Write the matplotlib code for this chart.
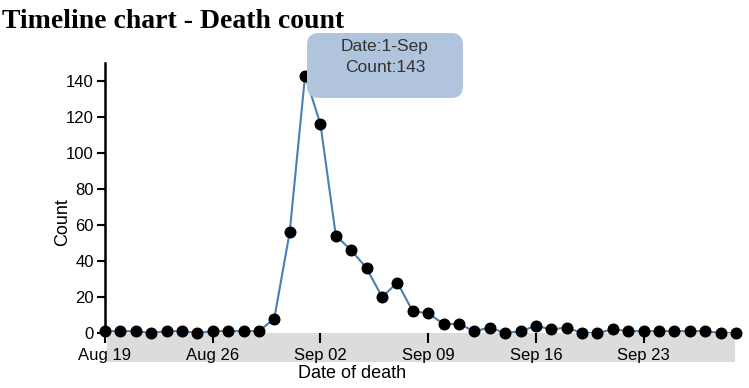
import pandas as pd
import matplotlib.pyplot as plt
from matplotlib.patches import FancyBboxPatch, Rectangle
from matplotlib.transforms import IdentityTransform

plt.rcParams['font.family'] = ['Liberation Sans', 'DejaVu Sans']

# Deaths per day, 19 Aug - 29 Sep 1854
dates = pd.date_range('1854-08-19', periods=42, freq='D')
deaths = [1, 1, 1, 0, 1, 1, 0, 1, 1, 1, 1, 8, 56, 143, 116, 54, 46, 36, 20, 28,
          12, 11, 5, 5, 1, 3, 0, 1, 4, 2, 3, 0, 0, 2, 1, 1, 1, 1, 1, 1, 0, 0]
tick_dates = pd.to_datetime(['1854-08-19', '1854-08-26', '1854-09-02',
                             '1854-09-09', '1854-09-16', '1854-09-23'])
tick_labels = ['Aug 19', 'Aug 26', 'Sep 02', 'Sep 09', 'Sep 16', 'Sep 23']

W, H = 749, 388
fig = plt.figure(figsize=(W / 100, H / 100), dpi=100)
ax = fig.add_axes([105 / W, (H - 333) / H, (736 - 105) / W, 270 / H])

ax.plot(dates, deaths, color='#4a7fb0', lw=1.5, zorder=2)
ax.scatter(dates, deaths, s=58, color='black', zorder=4, clip_on=False)

ax.set_xlim(dates[0], dates[-1])
ax.set_ylim(0, 150)
ax.set_yticks(range(0, 141, 20))
ax.set_xticks(tick_dates)
ax.set_xticklabels(tick_labels)

# grey band behind the x axis
band = Rectangle((2 / 631, -29 / 270), 628 / 631, 29.4 / 270, transform=ax.transAxes,
                 facecolor='#dcdcdc', edgecolor='none', clip_on=False, zorder=3)
ax.add_patch(band)

for s in ['top', 'right', 'bottom']:
    ax.spines[s].set_visible(False)
ax.spines['left'].set_linewidth(1.8)
ax.tick_params(axis='y', length=6, width=1.5, labelsize=12, pad=2)
ax.tick_params(axis='x', length=7, width=1.5, labelsize=12, pad=4)
ax.xaxis.set_zorder(3.5)

fig.text(63 / W, 1 - 222 / H, 'Count', fontsize=13, rotation=90,
         ha='center', va='center')
fig.text(352 / W, 1 - 373 / H, 'Date of death', fontsize=13,
         ha='center', va='center')

fig.text(2 / W, 1 - 28 / H, 'Timeline chart - Death count', fontsize=20,
         fontweight='bold', family='Liberation Serif', va='baseline')

# tooltip
tip = FancyBboxPatch((307, H - 98), 156, 65,
                     boxstyle='round,pad=0,rounding_size=12',
                     transform=IdentityTransform(), facecolor='#b0c4de',
                     edgecolor='none', zorder=6)
fig.patches.append(tip)
fig.text(385 / W, 1 - 47 / H, 'Date:1-Sep', fontsize=12.5, color='#333333',
         ha='center', va='center', zorder=7)
fig.text(385 / W, 1 - 67 / H, 'Count:143', fontsize=12.5, color='#333333',
         ha='center', va='center', zorder=7)

fig.savefig('out.png', dpi=100)
